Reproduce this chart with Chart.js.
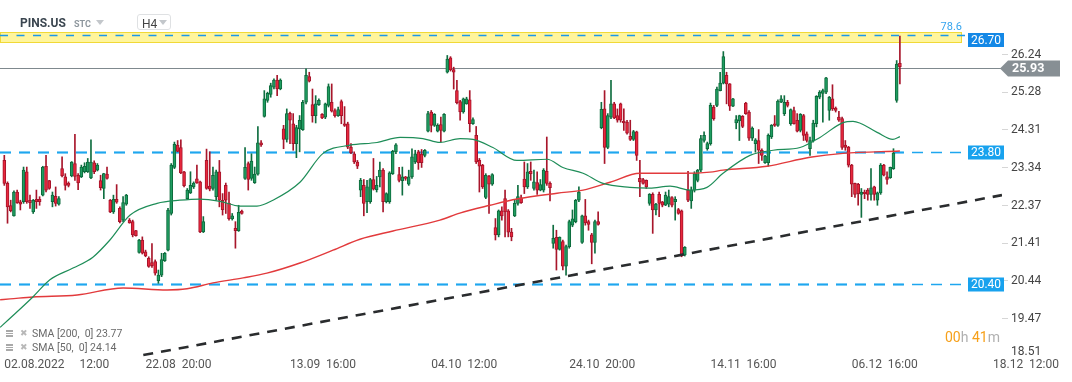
<!DOCTYPE html>
<html><head><meta charset="utf-8">
<script src="https://cdn.jsdelivr.net/npm/chart.js@4.4.1/dist/chart.umd.min.js"></script>
<style>
html,body{margin:0;padding:0;background:#fff;overflow:hidden}
#wrap{position:relative;width:1072px;height:382px;font-family:Roboto,'DejaVu Sans',sans-serif}
canvas{position:absolute;left:0;top:0}
.ov{position:absolute;white-space:pre;line-height:1}
.tri{position:absolute;width:0;height:0;border-left:4px solid transparent;border-right:4px solid transparent;border-top:5px solid #c3c7cb}
.ico{position:absolute;width:7px;height:7px;background:linear-gradient(#a9a9a9 0 2px,transparent 2px 3px,#a9a9a9 3px 4px,transparent 4px 5px,#a9a9a9 5px 7px)}
</style></head><body>
<div id="wrap">
<canvas id="c" width="1072" height="382" style="width:1072px;height:382px"></canvas>
<div class="ov" style="left:20px;top:17px;font-size:12px;font-weight:700;color:#3b4650">PINS.US</div>
<div class="ov" style="left:74px;top:20px;font-size:9px;font-weight:700;color:#8e979e">STC</div>
<div class="tri" style="left:96px;top:20px"></div>
<div style="position:absolute;left:137px;top:14px;width:34px;height:16px;border:1px solid #dfe1e3;border-radius:3px;box-sizing:border-box"></div>
<div class="ov" style="left:142px;top:18px;font-size:12px;color:#444">H4</div>
<div class="tri" style="left:159px;top:20px"></div>
<div class="ico" style="left:6px;top:330px"></div>
<div class="ov" style="left:20px;top:329px;font-size:9px;color:#b8b8b8;font-family:'DejaVu Sans'">✖</div>
<div class="ov" style="left:32px;top:329px;font-size:10.5px;color:#6a6a6a">SMA [200,  0] 23.77</div>
<div class="ico" style="left:6px;top:344px"></div>
<div class="ov" style="left:20px;top:343px;font-size:9px;color:#b8b8b8;font-family:'DejaVu Sans'">✖</div>
<div class="ov" style="left:32px;top:343px;font-size:10.5px;color:#6a6a6a">SMA [50,  0] 24.14</div>
<div class="ov" style="left:945px;top:330px;font-size:14px;color:#b0b0b0"><span style="color:#f6a01a">00</span>h <span style="color:#f6a01a">41</span>m</div>
</div>
<script>
// ---- data ----
const xTickIdx  = [0, 44, 89, 133, 176, 220, 264, 308];
const xTickText = ['02.08.2022     12:00','22.08  20:00','13.09  16:00','04.10  12:00','24.10  20:00','14.11  16:00','06.12  16:00','18.12  12:00'];
const yTickVals = [19.47, 20.44, 21.41, 22.37, 23.34, 24.31, 25.28, 26.24];
const yBottomTick = 18.51;

const openP = [
23.53,22.94,22.37,22.11,22.72,22.47,22.47,23.24,22.51,22.21,
22.53,22.53,22.64,23.38,23.01,22.47,22.61,22.41,23.32,23.11,
22.95,23.13,23.45,23.15,23.11,23.24,23.24,23.08,23.47,23.28,
23.01,22.81,23.18,22.51,22.21,22.53,22.30,22.00,22.41,22.00,
21.96,21.73,21.17,21.49,21.19,21.02,20.91,20.94,20.45,20.59,
20.96,21.23,22.17,23.35,23.92,23.86,23.24,22.55,22.70,22.85,
23.06,22.98,21.70,23.53,22.87,22.81,22.60,23.24,22.51,22.89,
22.43,22.03,21.79,21.73,22.23,23.07,23.45,23.07,22.96,23.18,
23.98,24.66,25.07,25.22,25.41,25.59,25.36,24.34,24.07,24.74,
24.47,23.96,24.34,24.32,25.02,25.68,24.96,24.68,24.96,24.71,
24.64,24.94,25.02,24.81,24.68,25.04,24.47,24.47,23.87,23.70,
23.49,22.77,22.89,22.47,22.47,23.04,22.78,23.11,23.28,22.47,
22.47,23.19,23.75,23.17,23.01,23.11,22.92,23.11,23.49,23.75,
23.69,23.66,24.28,24.77,24.43,24.28,24.45,24.28,25.79,26.16,
25.86,25.32,25.04,24.77,24.98,25.08,24.47,24.17,23.53,23.41,
22.58,23.13,22.92,21.81,21.62,22.24,22.55,22.24,21.69,22.11,
22.43,22.57,23.05,22.85,23.25,22.81,22.96,22.77,22.77,23.25,
22.94,21.40,21.56,21.25,21.45,20.82,21.32,21.87,21.96,22.51,
21.43,22.11,21.96,21.62,21.43,21.96,24.37,24.85,23.86,24.64,
24.98,24.68,24.98,24.54,24.51,24.15,24.07,24.26,23.07,23.04,
23.02,22.43,22.66,22.26,22.66,22.47,22.38,22.41,22.58,22.47,
22.27,22.24,21.11,22.77,22.49,22.77,23.02,23.28,24.04,23.83,
23.96,24.90,24.94,25.32,25.51,25.71,25.49,24.92,24.49,24.54,
24.66,25.00,24.77,24.10,23.96,24.04,23.79,23.47,23.47,24.13,
24.47,24.43,25.02,24.73,25.02,24.47,24.81,24.56,24.30,24.68,
24.21,23.83,24.03,24.47,25.15,25.25,25.28,24.81,25.11,24.87,
24.64,24.60,23.92,23.87,23.41,22.94,22.92,22.66,22.72,22.77,
22.66,22.85,22.51,22.70,23.41,23.11,23.09,23.32,25.07,26.02];
const highP = [
23.66,22.98,22.51,22.75,22.77,22.51,23.36,23.36,22.64,22.53,
22.77,22.60,23.38,23.66,23.02,22.72,22.85,22.60,23.62,23.19,
22.98,23.50,24.20,23.19,23.41,23.47,23.58,24.06,23.52,23.45,
23.15,23.20,23.36,22.53,22.64,22.91,22.34,22.60,22.66,22.04,
22.00,21.74,21.51,21.57,21.23,21.06,21.40,20.98,20.72,21.15,
21.17,22.30,23.45,24.00,24.04,24.06,23.25,22.81,23.24,22.98,
23.41,23.00,22.09,23.82,23.75,23.36,23.28,23.53,22.68,22.95,
22.72,22.17,21.96,22.38,22.26,23.86,23.49,23.70,23.36,24.40,
24.04,25.32,25.28,25.51,25.62,25.71,25.62,24.43,24.85,24.77,
24.73,24.43,24.68,25.07,25.88,25.79,25.36,25.19,25.11,24.73,
25.00,25.49,25.49,24.85,24.90,25.08,24.91,24.51,23.96,23.75,
23.53,23.07,23.04,23.02,23.07,23.58,23.12,23.49,23.32,22.70,
23.24,23.79,23.96,23.35,23.36,23.12,23.28,23.83,23.79,23.79,
23.81,23.81,24.79,24.81,24.73,24.47,24.64,24.73,26.22,26.19,
25.92,25.58,25.07,25.13,25.15,25.32,24.62,24.40,23.58,23.43,
23.19,23.15,23.19,22.04,22.26,22.34,22.77,22.27,21.79,22.53,
22.89,22.64,23.49,23.45,23.49,23.28,23.24,23.04,23.32,24.13,
22.98,21.87,21.74,21.57,21.49,21.36,22.00,22.26,22.53,22.85,
22.13,22.53,22.00,21.66,22.00,22.21,25.02,25.32,24.73,25.58,
25.02,24.85,25.00,24.85,24.56,24.56,24.30,24.28,23.53,23.07,
23.03,22.68,22.70,22.43,22.72,22.48,22.72,22.77,22.60,22.60,
22.30,22.26,21.32,23.25,22.85,23.24,23.30,24.17,24.26,24.00,
25.00,24.94,25.41,25.79,26.32,25.79,25.50,25.12,24.68,24.69,
24.68,25.02,24.81,24.39,24.09,24.32,23.83,23.66,24.21,24.45,
24.68,25.08,25.19,25.19,25.07,24.85,24.90,24.73,24.73,24.71,
24.26,24.13,24.56,25.19,25.32,25.36,25.66,25.17,25.47,24.90,
24.79,24.64,24.04,23.89,23.43,22.95,22.94,22.81,22.77,22.81,
23.32,22.87,22.72,23.45,23.43,23.24,23.36,23.83,26.09,26.72];
const lowP = [
22.89,21.92,22.21,22.10,22.43,22.26,22.43,22.43,22.30,22.17,
22.30,22.38,22.62,22.72,22.79,22.34,22.36,22.38,23.11,22.77,
22.85,23.11,23.02,22.78,23.09,23.21,23.22,23.06,23.19,23.26,
22.77,22.55,23.05,22.19,22.17,22.43,21.93,21.96,22.38,21.92,
21.57,21.59,21.15,21.13,21.06,20.79,20.79,20.59,20.38,20.55,
20.94,21.21,22.13,23.32,23.75,23.19,22.85,22.53,22.68,22.81,
22.94,21.68,21.68,22.79,22.75,22.77,22.51,22.34,22.13,22.17,
22.00,22.00,21.28,21.71,22.15,23.04,22.77,23.02,22.94,23.15,
23.89,24.64,25.02,25.15,25.36,25.19,25.34,23.83,24.00,23.96,
23.79,23.60,23.75,24.30,24.98,25.54,24.51,24.49,24.94,24.60,
24.60,24.90,24.77,24.64,24.66,24.47,24.40,23.83,23.70,23.45,
23.32,22.60,22.11,22.19,22.43,22.77,22.72,22.85,22.21,22.44,
22.43,23.17,23.70,22.98,22.64,23.02,22.89,23.07,23.45,23.30,
23.35,23.62,24.26,24.26,24.40,24.26,24.00,24.26,25.77,25.82,
25.36,24.98,24.56,24.74,24.97,24.26,24.45,23.45,22.72,22.81,
22.55,22.17,22.89,21.49,21.57,22.00,21.57,21.57,21.47,22.09,
22.38,22.43,22.68,22.81,23.02,22.77,22.66,22.75,22.72,22.89,
22.49,21.28,20.72,21.23,20.72,20.59,21.28,21.83,21.93,22.47,
21.40,21.87,21.74,20.88,21.15,21.87,24.34,23.45,23.83,24.60,
24.60,24.51,24.51,24.30,24.20,24.04,24.04,23.53,22.60,22.92,
22.81,22.38,21.66,22.13,22.09,22.34,22.37,22.34,22.34,22.00,
22.15,21.06,21.08,22.47,22.30,22.72,22.98,23.24,24.00,23.79,
23.92,24.56,24.91,25.31,25.49,24.98,24.81,24.91,24.34,24.04,
24.37,24.71,24.04,24.04,23.74,23.45,23.53,23.45,23.38,24.09,
24.40,24.40,25.01,24.68,24.90,24.43,24.46,24.26,24.26,24.04,
24.00,23.66,24.00,24.39,25.11,24.51,25.24,24.56,24.81,24.77,
24.53,23.81,23.79,23.36,22.60,22.58,22.38,22.07,22.55,22.51,
22.51,22.51,22.38,22.66,23.13,22.92,23.07,23.30,25.02,25.49];
const closeP = [
22.94,22.34,22.24,22.72,22.45,22.41,23.28,22.47,22.45,22.51,
22.47,22.47,23.36,22.77,22.81,22.64,22.43,22.55,23.13,22.89,
22.89,23.49,23.12,22.95,23.36,23.38,23.49,23.49,23.24,23.41,
22.83,23.19,23.07,22.21,22.53,22.46,21.96,22.45,22.64,21.93,
21.62,21.60,21.49,21.15,21.08,20.81,20.83,20.64,20.59,20.99,
21.15,22.26,23.41,23.94,23.76,23.21,22.88,22.77,22.89,22.95,
22.95,21.70,21.96,22.81,22.79,23.15,23.24,22.51,22.27,22.51,
22.04,22.11,21.73,22.20,22.17,23.35,23.04,23.51,23.18,23.98,
23.93,25.11,25.25,25.45,25.59,25.36,25.59,24.07,24.73,24.56,
23.96,24.37,24.56,25.02,25.71,25.56,24.68,24.98,25.07,24.62,
24.98,25.42,24.79,24.68,24.83,24.68,24.43,23.87,23.73,23.49,
23.38,23.02,22.43,22.85,23.04,22.79,22.89,23.28,22.47,22.68,
23.21,23.76,23.93,23.02,23.11,23.07,23.11,23.62,23.70,23.47,
23.47,23.79,24.73,24.43,24.71,24.43,24.30,24.71,26.13,25.85,
25.79,25.01,24.77,25.11,25.11,24.47,24.58,23.49,23.38,22.85,
23.15,22.92,23.17,21.62,22.24,22.11,22.21,21.69,21.57,22.43,
22.60,22.45,22.85,23.24,23.19,22.98,22.77,22.91,23.28,22.94,
22.83,21.53,21.25,21.56,20.82,21.32,21.96,22.03,22.51,22.72,
22.11,21.93,21.89,21.43,21.96,21.89,24.84,23.86,24.68,24.98,
24.62,24.56,24.56,24.49,24.23,24.07,24.27,23.66,22.98,22.94,
22.85,22.66,22.26,22.41,22.43,22.38,22.64,22.60,22.38,22.53,
22.17,21.11,21.30,22.51,22.77,23.19,23.28,24.09,24.17,23.96,
24.94,24.60,25.36,25.51,26.19,25.49,24.92,25.11,24.58,24.68,
24.40,24.73,24.10,24.36,24.06,23.79,23.66,23.64,24.17,24.43,
24.43,25.05,25.11,25.02,24.94,24.83,24.47,24.28,24.71,24.17,
24.04,24.04,24.49,25.17,25.28,25.32,25.65,25.15,24.85,24.81,
24.56,23.86,23.86,23.41,22.92,22.66,22.68,22.72,22.68,22.66,
22.83,22.66,22.70,23.41,23.15,23.04,23.35,23.72,26.00,25.93];

const sma200X = [-1.3,1.8,8.9,22.7,37.0,50.7,56.9,65.0,74.4,81.8,92.1,102.4,110.8,121.1,135.7,141.9,151.3,159.7,172.2,180.3,188.7,198.0,211.4,219.8,223.9,237.6,251.0,261.3,279];
const sma200Y = [19.96,19.98,20.03,20.08,20.26,20.21,20.24,20.39,20.52,20.64,20.90,21.23,21.51,21.72,22.00,22.18,22.38,22.54,22.69,22.77,22.97,23.20,23.20,23.23,23.28,23.38,23.61,23.71,23.77];
const sma50X = [-1.3,1.2,8.9,14.2,21.4,27.6,32.9,39.2,47.6,54.7,61.0,67.2,73.4,78.7,83.7,92.1,99.3,107.7,116.1,123.3,130.4,135.7,142.0,146.0,152.2,159.7,169.1,174.0,180.3,186.5,194.9,201.1,207.4,213.6,218.9,223.9,232.3,239.5,247.9,254.1,261.3,264.4,271.9,276.8,279];
const sma50Y = [19.25,19.44,20.03,20.47,20.77,21.05,21.49,22.13,22.43,22.51,22.54,22.48,22.36,22.36,22.51,22.97,23.71,23.92,23.99,24.12,24.09,23.99,24.09,24.07,23.86,23.53,23.56,23.35,23.20,22.94,22.84,22.82,22.87,22.77,22.84,23.20,23.66,23.79,23.86,24.12,24.50,24.53,24.25,24.07,24.14];

const trendX = [43.3, 310.8];
const trendY = [18.54, 22.64];

const bandRange   = [26.57, 26.83];
const resistLevel = 26.75, resistLabel = '26.70', fibLabel = '78.6';
const lastLevel   = 25.90, lastLabel = '25.93';
const blueLevels  = [23.74, 20.36];
const blueLabels  = ['23.80', '20.40'];

const xMin = -1.34, xMax = 310.81;
const yMin = 18.491, yMax = 27.642;

// ---- build ----
Chart.defaults.font.family = 'Roboto';
const idx = openP.map((_, i) => i);
const up = idx.map(i => closeP[i] >= openP[i]);
const bodies = idx.map(i => ({x: i, y: [openP[i], closeP[i]]}));
const wicks = idx.map(i => ({x: i, y: [lowP[i], highP[i]]}));

function dashLine(ctx, x0, x1, yy, color, w, dash) {
  ctx.save(); ctx.strokeStyle = color; ctx.lineWidth = w; ctx.setLineDash(dash);
  ctx.beginPath(); ctx.moveTo(x0, yy); ctx.lineTo(x1, yy); ctx.stroke(); ctx.restore();
}
function tag(ctx, x, yc, w, h, bg, text) {
  ctx.fillStyle = bg; ctx.fillRect(x, yc - h / 2, w, h);
  ctx.fillStyle = '#fff'; ctx.font = '12px Roboto'; ctx.textAlign = 'center'; ctx.textBaseline = 'middle';
  ctx.fillText(text, x + w / 2, yc + 0.5);
}

const levelsPlugin = {
  id: 'levels',
  beforeDatasetsDraw(chart) {
    const {ctx, chartArea: ca, scales: {x, y}} = chart;
    ctx.save();
    ctx.beginPath(); ctx.rect(ca.left, ca.top, ca.right - ca.left, ca.bottom - ca.top); ctx.clip();
    const b1 = Math.round(y.getPixelForValue(bandRange[1])), b2 = Math.round(y.getPixelForValue(bandRange[0]));
    ctx.fillStyle = '#fff59c'; ctx.fillRect(0, b1, 962, b2 - b1);
    ctx.strokeStyle = '#f1d936'; ctx.lineWidth = 1; ctx.strokeRect(0.5, b1 + 0.5, 961, b2 - b1);
    const py = Math.round(y.getPixelForValue(lastLevel)) + 0.5;
    ctx.strokeStyle = '#7f898e'; ctx.lineWidth = 1; ctx.beginPath(); ctx.moveTo(0, py); ctx.lineTo(ca.right, py); ctx.stroke();
    const ry = Math.round(y.getPixelForValue(resistLevel)) + 0.5;
    dashLine(ctx, 0, 967, ry, '#1b98e8', 1.6, [8, 8.5]);
    const lastX = x.getPixelForValue(idx.length - 1) + 4;
    blueLevels.forEach(v => {
      const yy = Math.round(y.getPixelForValue(v)) + 0.5;
      dashLine(ctx, 0, lastX, yy, '#7fcdf5', 2.6, [11, 8]);
      dashLine(ctx, 0, 967, yy, '#1ea6ef', 1.3, [11, 8]);
    });
    ctx.restore();
  },
  afterDraw(chart) {
    const {ctx, chartArea: ca, scales: {y}} = chart;
    ctx.save();
    const ry = y.getPixelForValue(resistLevel);
    ctx.fillStyle = '#35a4ee'; ctx.font = '11px Roboto'; ctx.textAlign = 'right'; ctx.textBaseline = 'middle';
    ctx.fillText(fibLabel, 962, ry - 8);
    tag(ctx, 968, Math.round(ry) + 5, 36, 14, '#1488e6', resistLabel);
    blueLevels.forEach((v, k) => tag(ctx, 968, Math.round(y.getPixelForValue(v)) + 0.5, 36, 14, '#18a2ee', blueLabels[k]));
    const py = Math.round(y.getPixelForValue(lastLevel)) + 0.5;
    ctx.fillStyle = '#878f94';
    ctx.beginPath(); ctx.moveTo(ca.right - 2, py); ctx.lineTo(1008, py - 8); ctx.lineTo(1060, py - 8);
    ctx.lineTo(1060, py + 8); ctx.lineTo(1008, py + 8); ctx.closePath(); ctx.fill();
    ctx.fillStyle = '#fff'; ctx.font = 'bold 12.5px Roboto'; ctx.textAlign = 'left'; ctx.textBaseline = 'middle';
    ctx.fillText(lastLabel, 1012, py + 0.5);
    const by = y.getPixelForValue(yBottomTick) - 4;
    ctx.fillStyle = '#444'; ctx.font = '12px Roboto';
    ctx.fillText(yBottomTick.toFixed(2), y.left + 9, by);
    ctx.restore();
  }
};

new Chart(document.getElementById('c'), {
  type: 'bar',
  data: {
    datasets: [
      {type: 'line', label: 'trend', data: trendX.map((v, i) => ({x: v, y: trendY[i]})),
       borderColor: '#2a2c2e', borderWidth: 2.6, borderDash: [10, 8], pointRadius: 0, order: 0},
      {type: 'line', label: 'SMA 50', data: sma50X.map((v, i) => ({x: v, y: sma50Y[i]})),
       borderColor: '#1e8d58', borderWidth: 1.2, pointRadius: 0, cubicInterpolationMode: 'monotone', order: 1},
      {type: 'line', label: 'SMA 200', data: sma200X.map((v, i) => ({x: v, y: sma200Y[i]})),
       borderColor: '#e23a3c', borderWidth: 1.4, pointRadius: 0, cubicInterpolationMode: 'monotone', order: 2},
      {type: 'bar', label: 'body', data: bodies,
       backgroundColor: up.map(u => u ? '#1f9d61' : '#e8283d'),
       borderColor: up.map(u => u ? '#0d6a3c' : '#a5132a'),
       borderWidth: 1, borderSkipped: false, grouped: false, barPercentage: 1, categoryPercentage: 1,
       maxBarThickness: 3, minBarLength: 1.5, order: 4},
      {type: 'bar', label: 'wick', data: wicks,
       backgroundColor: up.map(u => u ? '#0f6e40' : '#a8162b'),
       borderWidth: 0, grouped: false, barPercentage: 1, categoryPercentage: 1,
       maxBarThickness: 1, order: 5}
    ]
  },
  options: {
    responsive: false, animation: false, devicePixelRatio: 1,
    layout: {padding: 0},
    plugins: {legend: {display: false}, tooltip: {enabled: false}},
    scales: {
      x: {
        type: 'linear', min: xMin, max: xMax, offset: false,
        grid: {display: false, drawTicks: false, offset: false}, border: {display: false},
        ticks: {autoSkip: false, maxRotation: 0, minRotation: 0, align: 'start', padding: 1,
                color: '#555', font: {size: 12},
                callback: v => { const k = xTickIdx.indexOf(v); return k < 0 ? '' : xTickText[k]; }},
        afterBuildTicks: s => { s.ticks = xTickIdx.map(v => ({value: v})); },
        afterFit: s => { s.height = 25; s.paddingLeft = 0; s.paddingRight = 0; }
      },
      y: {
        type: 'linear', position: 'right', min: yMin, max: yMax,
        grid: {drawOnChartArea: false, drawTicks: true, tickLength: 6, color: '#d6d6d6'},
        border: {display: false},
        ticks: {padding: 3, color: '#444', font: {size: 12}, callback: v => Number(v).toFixed(2)},
        afterBuildTicks: s => { s.ticks = yTickVals.map(v => ({value: v})); },
        afterFit: s => { s.width = 70; s.paddingTop = 0; s.paddingBottom = 0; }
      }
    }
  },
  plugins: [levelsPlugin]
});
</script>
</body></html>
